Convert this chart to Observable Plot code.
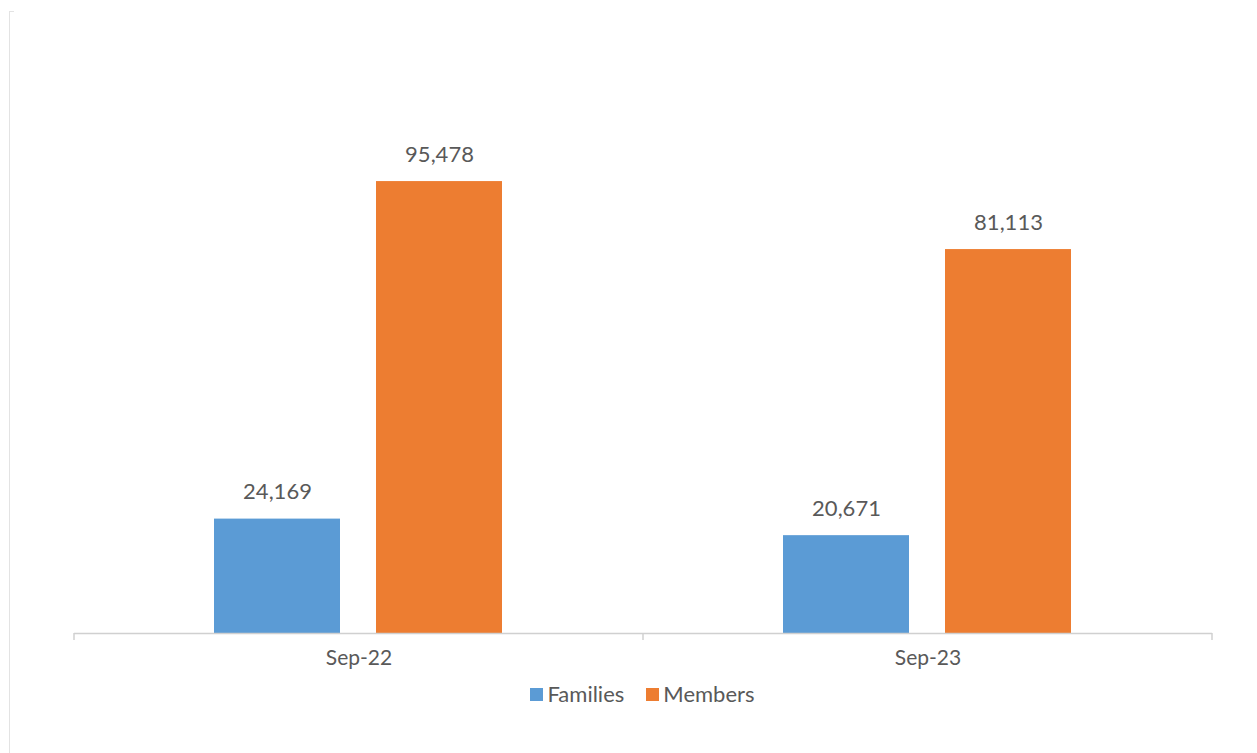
<!DOCTYPE html>
<html>
<head>
<meta charset="utf-8">
<script src="https://cdn.jsdelivr.net/npm/d3@7"></script>
<script src="https://cdn.jsdelivr.net/npm/@observablehq/plot@0.6"></script>
<style>
  html, body { margin: 0; padding: 0; background: #fff; }
  #wrap { position: relative; width: 1257px; height: 753px; font-family: Lato, "Open Sans", sans-serif; }
  #edge { position: absolute; left: 9px; top: 11px; width: 4px; bottom: 0; border-left: 1px solid #e3e3e3; border-top: 1px solid #e3e3e3; }
  #legend { position: absolute; top: 681px; left: 73px; width: 1139px; text-align: center; font-size: 22px; line-height: 26px; color: #595959; }
  #legend span.item { display: inline-block; margin: 0 11px; }
  #legend span.sw { display: inline-block; width: 13px; height: 13px; margin-right: 4px; vertical-align: 1px; }
</style>
</head>
<body>
<div id="wrap"><div id="edge"></div><div id="chart"></div><div id="legend"></div></div>
<script>
const periods = ["Sep-22", "Sep-23"];
const seriesNames = ["Families", "Members"];
const families = [24169, 20671];
const members = [95478, 81113];
const colors = ["#5B9BD5", "#ED7D31"];

const data = [];
periods.forEach((p, i) => {
  data.push({period: p, series: "Families", value: families[i]});
  data.push({period: p, series: "Members", value: members[i]});
});

const fmt = d3.format(",");

const chart = Plot.plot({
  width: 1257,
  height: 753,
  marginLeft: 73,
  marginRight: 45,
  marginTop: 65,
  marginBottom: 120,
  style: {fontFamily: "Lato, 'Open Sans', sans-serif", fontSize: "21px", color: "#595959", background: "transparent"},
  fx: {domain: periods, padding: 0, label: null, axis: null},
  x: {domain: seriesNames, paddingInner: 0.2215, paddingOuter: 0.863, axis: null},
  y: {domain: [0, 120000], axis: null},
  color: {domain: seriesNames, range: colors},
  marks: [
    Plot.barY(data, {fx: "period", x: "series", y: "value", fill: "series"}),
    Plot.ruleY([0], {stroke: "#d0d0d0", strokeWidth: 1.5}),
    Plot.text(data, {fx: "period", x: "series", y: "value", text: d => fmt(d.value), lineAnchor: "bottom", dy: -20, fill: "#595959", fontSize: 22}),
    Plot.axisFx({domain: periods, tickSize: 0, tickPadding: 17, label: null, fontSize: 21, fill: "#595959", anchor: "bottom"})
  ]
});

document.getElementById("chart").appendChild(chart);

// category separator ticks derived from the fx scale
const fxs = chart.scale("fx");
const ys = chart.scale("y");
const svg = d3.select(chart);
const base = ys.apply(0);
const edges = periods.map(p => fxs.apply(p)).concat([fxs.apply(periods[periods.length - 1]) + fxs.bandwidth]);
edges.forEach(xv => {
  svg.append("line")
    .attr("x1", xv).attr("x2", xv)
    .attr("y1", base).attr("y2", base + 7)
    .attr("stroke", "#d0d0d0").attr("stroke-width", 1.5);
});

const legend = document.getElementById("legend");
seriesNames.forEach((n, i) => {
  const it = document.createElement("span");
  it.className = "item";
  const sw = document.createElement("span");
  sw.className = "sw";
  sw.style.background = colors[i];
  it.appendChild(sw);
  it.appendChild(document.createTextNode(n));
  legend.appendChild(it);
});
</script>
</body>
</html>
